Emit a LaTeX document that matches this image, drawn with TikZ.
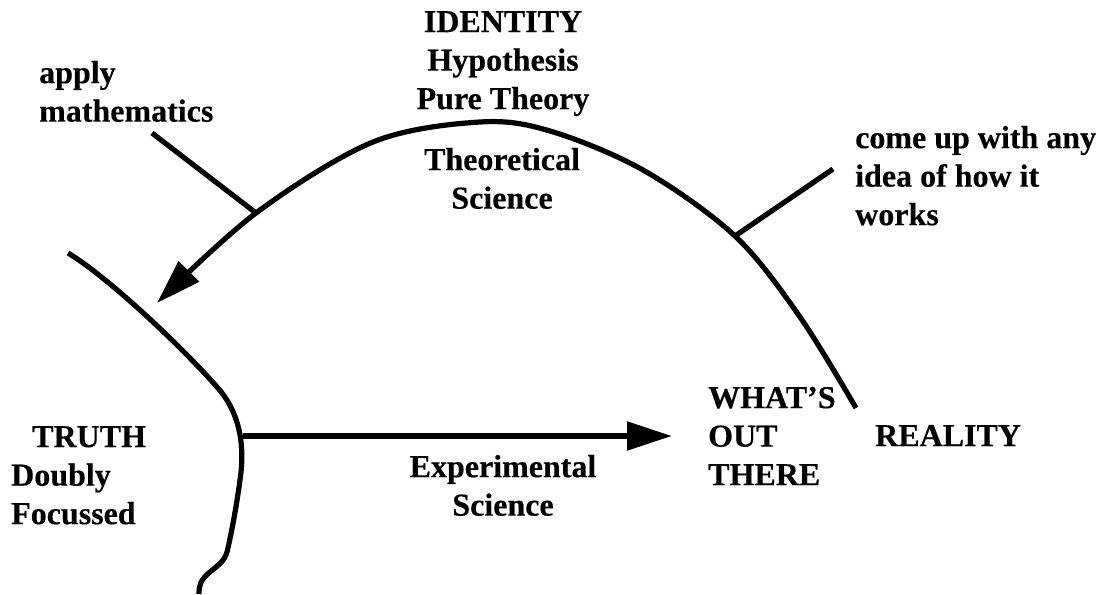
\documentclass[tikz,border=0pt]{standalone}
\usepackage{fontspec}
\setmainfont{Liberation Serif}[BoldFeatures={FakeBold=0.35}]
\usetikzlibrary{arrows.meta}
\tikzset{
  lbl/.style={inner sep=0pt, font=\fontsize{32}{38.5}\selectfont\bfseries},
  curve/.style={line width=5.2pt, line join=round},
  tick/.style={line width=5.2pt},
  bigtip/.style={-{Triangle[length=45pt,width=28pt]}}
}
\begin{document}
\begin{tikzpicture}[x=1pt,y=-1pt]
\useasboundingbox (0,0) rectangle (1102,594);
% labels
\node[lbl, anchor=north, align=center] (identity) at (503,5) {\strut IDENTITY\\Hypothesis\\Pure Theory};
\node[lbl, anchor=north, align=center] (theo) at (502,143) {\strut Theoretical\\Science};
\node[lbl, anchor=north west, align=left] (apply) at (39,56) {\strut apply\\mathematics};
\node[lbl, anchor=north west, align=left] (come) at (855,121) {\strut come up with any\\idea of how it\\works};
\node[lbl, anchor=north west, align=left] (whats) at (708,381) {\strut WHAT'S\\OUT\\THERE};
\node[lbl, anchor=north west, align=left] (reality) at (875,419) {\strut REALITY};
\node[lbl, anchor=north west, align=left] (truth) at (11,420) {\strut\hspace*{21pt}TRUTH\\Doubly\\Focussed};
\node[lbl, anchor=north, align=center] (exper) at (503,450) {\strut Experimental\\Science};
% big arc coordinates
\coordinate (a0) at (856,408);
\coordinate (a1) at (800,317);
\coordinate (a2) at (735,236);
\coordinate (a3) at (643,170);
\coordinate (a4) at (550,131);
\coordinate (a5) at (480,122);
\coordinate (a6) at (373,142);
\coordinate (a7) at (256,213);
\coordinate (a8) at (157,303);
\draw[curve, bigtip] plot[smooth, tension=0.55] coordinates {(a0) (a1) (a2) (a3) (a4) (a5) (a6) (a7) (a8)};
% ticks to labels
\coordinate (applyend) at (152,133);
\coordinate (comeend) at (833,169);
\draw[tick] (applyend) -- (a7);
\draw[tick] (comeend) -- (a2);
% left curve (truth boundary)
\coordinate (t0) at (68,253);
\coordinate (t1) at (217,387);
\coordinate (t2) at (240,480);
\coordinate (t3) at (227,552);
\coordinate (t4) at (210,572);
\coordinate (t5) at (199,594);
\draw[curve] (t0) .. controls (108,277) and (182,347) .. (t1)
  .. controls (237,409) and (246,440) .. (t2)
  .. controls (236,510) and (230,540) .. (t3)
  .. controls (224,562) and (218,565) .. (t4)
  .. controls (200,580) and (199,586) .. (t5);
% experimental arrow
\coordinate (expstart) at (243,436);
\coordinate (expend) at (672,436);
\draw[curve, bigtip] (expstart) -- (expend);
\end{tikzpicture}
\end{document}
